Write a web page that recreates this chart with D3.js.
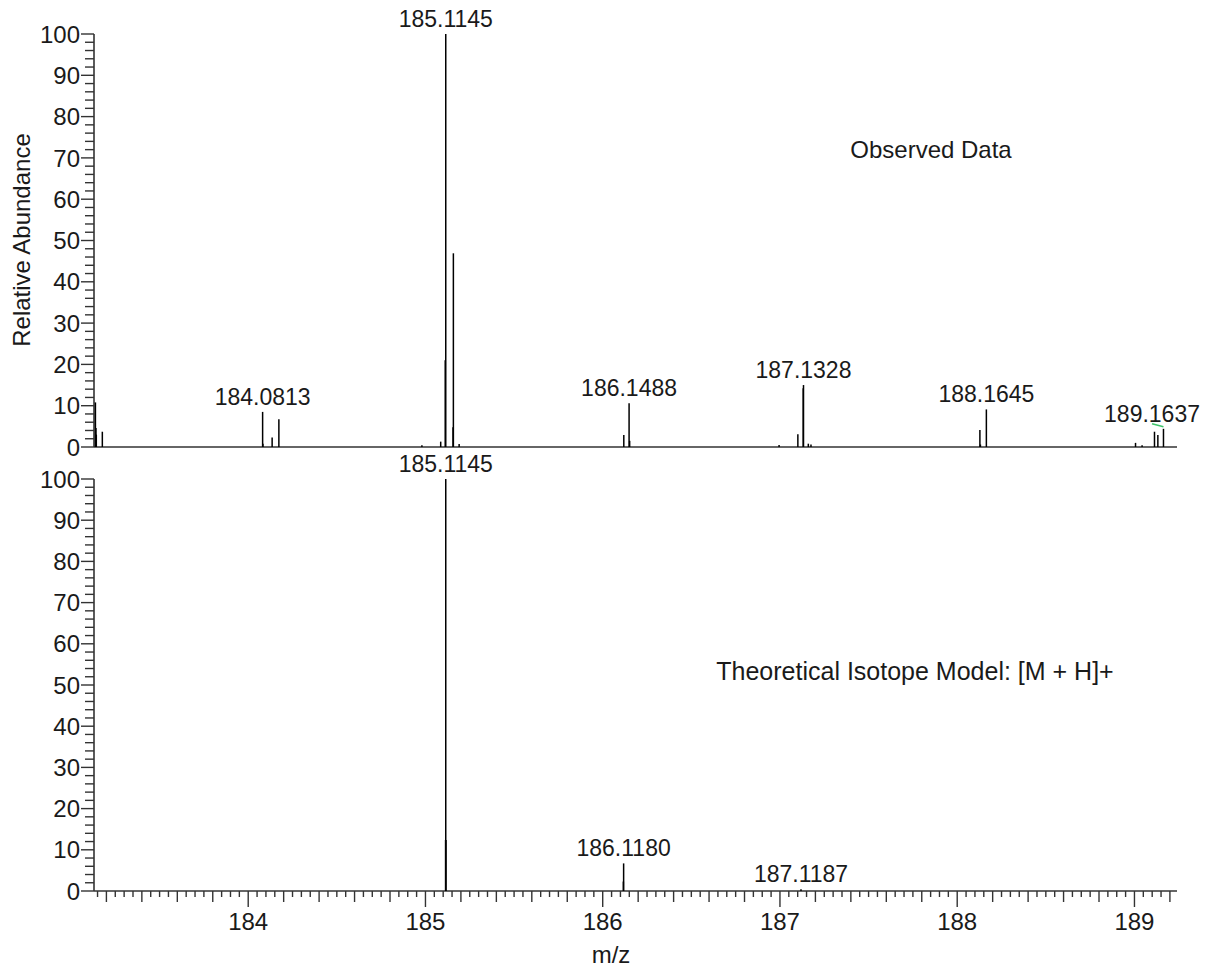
<!DOCTYPE html>
<html><head><meta charset="utf-8">
<script src="https://cdn.jsdelivr.net/npm/d3@7"></script>
<style>
html,body{margin:0;padding:0;background:#fff;}
svg text{font-family:"Liberation Sans",Arial,sans-serif;fill:#1a1a1a;}
</style></head>
<body>
<svg id="chart" width="1213" height="969"></svg>
<script>
// ---- data ----
const obsMz =    [183.138,183.141,183.143,183.177,184.0813,184.083,184.135,184.173,184.98,185.086,185.1115,185.1145,185.1555,185.1575,185.19,186.119,186.1488,186.152,186.995,187.101,187.1312,187.1328,187.16,187.175,188.128,188.131,188.1645,189.006,189.043,189.113,189.132,189.1637];
const obsAbund = [10.8,   4.6,    3.0,    3.7,    8.5,     0.8,    2.3,    6.7,    0.4,   1.3,    21.0,    100,     4.8,     46.9,    0.7,   2.9,    10.6,    1.5,    0.5,    3.1,    14.2,    15.0,    0.8,   0.6,    4.1,    0.6,    9.1,     1.0,    0.4,    3.7,    2.9,    4.4];
const obsLabelMz =    [184.0813,185.1145,186.1488,187.1328,188.1645,189.1637];
const obsLabelAbund = [8.5,     100,     10.6,    15.0,    9.1,     4.4];

const theoMz =    [185.1135,185.1145,185.1150,186.1165,186.1180,187.1187];
const theoAbund = [12.4,    100,     12.4,    2.3,     6.7,     0.4];
const theoLabelMz =    [185.1145,186.1180,187.1187];
const theoLabelAbund = [100,     6.7,     0.4];

const yTickValues = [0,10,20,30,40,50,60,70,80,90,100];
const xTickValues = [184,185,186,187,188,189];
const panelTitles = ["Observed Data","Theoretical Isotope Model: [M + H]+"];
const xTitle = "m/z", yTitle = "Relative Abundance";

// ---- layout ----
const svg = d3.select("#chart");
const x = d3.scaleLinear().domain([183.13, 189.24]).range([94, 1177]);
const yTop = d3.scaleLinear().domain([0,100]).range([447, 34]);
const yBot = d3.scaleLinear().domain([0,100]).range([891, 479]);
const axisColor = "#333";
const FS = 24, FL = 23;

function drawYAxis(y){
  const g = svg.append("g");
  g.append("line").attr("x1",x.range()[0]).attr("x2",x.range()[0])
    .attr("y1",y(0)).attr("y2",y(100)).attr("stroke",axisColor).attr("stroke-width",1.6);
  d3.range(0,101,2).forEach(v=>{
    const major = v%10===0;
    g.append("line").attr("x1",x.range()[0]-(major?13:9)).attr("x2",x.range()[0])
      .attr("y1",y(v)).attr("y2",y(v)).attr("stroke",axisColor).attr("stroke-width",1.4);
  });
  yTickValues.forEach(v=>{
    g.append("text").attr("x",x.range()[0]-14).attr("y",y(v)).attr("dy","0.36em")
      .attr("text-anchor","end").attr("font-size",FS).text(v);
  });
}

function drawPeaks(y, mz, ab){
  svg.append("g").selectAll("line").data(mz.map((m,i)=>({m,a:ab[i]}))).join("line")
    .attr("x1",d=>x(d.m)).attr("x2",d=>x(d.m))
    .attr("y1",y(0)).attr("y2",d=>y(d.a))
    .attr("stroke","#000").attr("stroke-width",1.5);
}

function drawLabels(y, mz, ab){
  const maxRight = 1200;
  mz.forEach((m,i)=>{
    const px = x(m), py = y(ab[i]);
    const t = svg.append("text").attr("x",px).attr("y",py-7)
      .attr("text-anchor","middle").attr("font-size",FL).text(m.toFixed(4));
    const w = t.node().getComputedTextLength();
    if (px + w/2 > maxRight){
      const cx = maxRight - w/2;
      t.attr("x", cx);
      svg.append("line").attr("x1",cx).attr("y1",py-5).attr("x2",px).attr("y2",py-2)
        .attr("stroke","#3fc46a").attr("stroke-width",1.5);
    }
  });
}

// top panel
drawYAxis(yTop);
svg.append("line").attr("x1",x.range()[0]).attr("x2",x.range()[1])
  .attr("y1",yTop(0)).attr("y2",yTop(0)).attr("stroke",axisColor).attr("stroke-width",1.6);
drawPeaks(yTop, obsMz, obsAbund);
drawLabels(yTop, obsLabelMz, obsLabelAbund);

// bottom panel
drawYAxis(yBot);
const gx = svg.append("g");
gx.append("line").attr("x1",x.range()[0]).attr("x2",x.range()[1])
  .attr("y1",yBot(0)).attr("y2",yBot(0)).attr("stroke",axisColor).attr("stroke-width",1.6);
d3.range(183.15, 189.2001, 0.05).forEach(v=>{
  const r = Math.round(v*20)/20;
  const isMajor = Math.abs(r-Math.round(r))<1e-6;
  const isMed = Math.abs(r*5-Math.round(r*5))<1e-6;
  const len = isMajor?16:(isMed?11:6);
  gx.append("line").attr("x1",x(r)).attr("x2",x(r))
    .attr("y1",yBot(0)).attr("y2",yBot(0)+len).attr("stroke",axisColor).attr("stroke-width",1.4);
});
xTickValues.forEach(v=>{
  gx.append("text").attr("x",x(v)).attr("y",yBot(0)+39).attr("text-anchor","middle")
    .attr("font-size",FS).text(v);
});
drawPeaks(yBot, theoMz, theoAbund);
drawLabels(yBot, theoLabelMz, theoLabelAbund);

// titles
svg.append("text").attr("x",931).attr("y",158).attr("text-anchor","middle").attr("font-size",FS).text(panelTitles[0]);
svg.append("text").attr("x",915).attr("y",680).attr("text-anchor","middle").attr("font-size",25).text(panelTitles[1]);
svg.append("text").attr("x",611).attr("y",963).attr("text-anchor","middle").attr("font-size",FS).text(xTitle);
svg.append("text").attr("transform","translate(30,240) rotate(-90)").attr("text-anchor","middle").attr("font-size",FS).text(yTitle);
</script>
</body></html>
